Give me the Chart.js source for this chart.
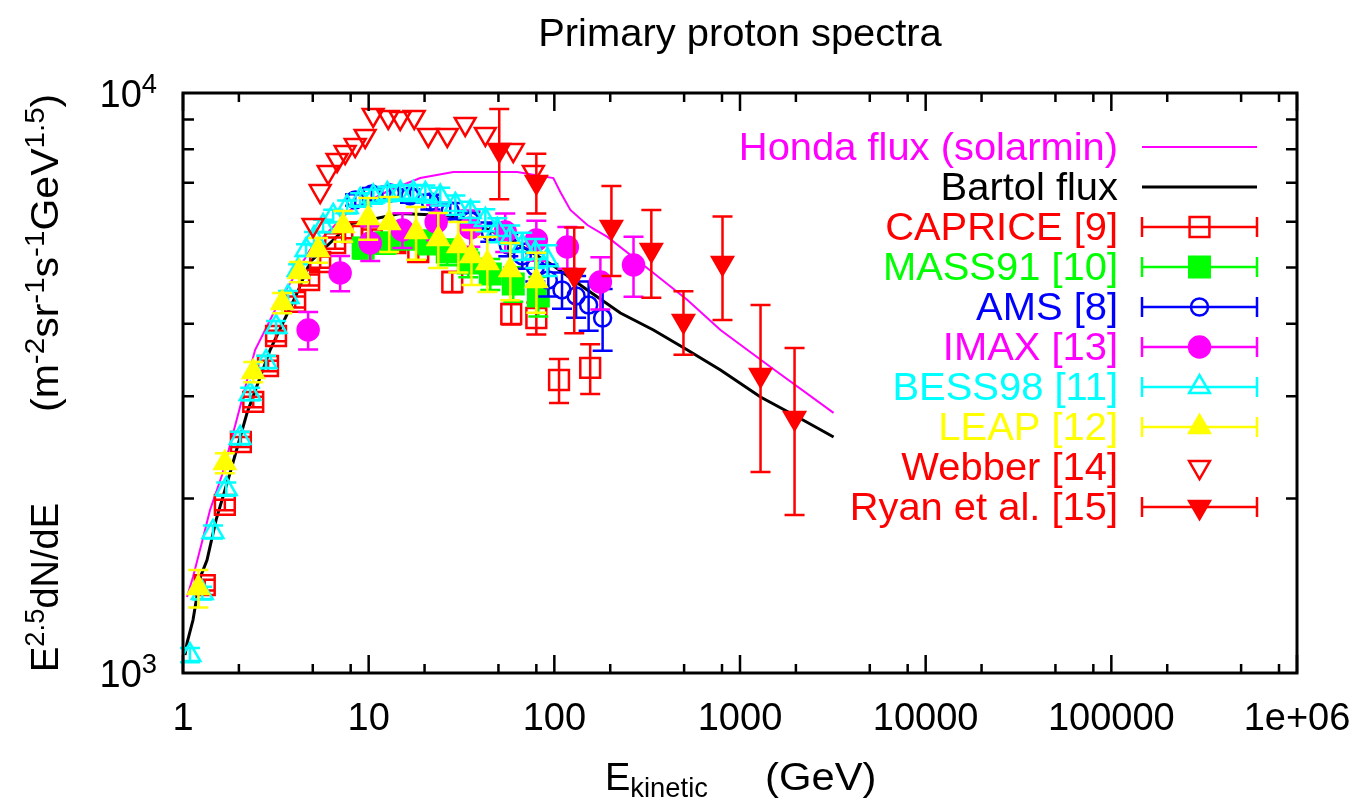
<!doctype html>
<html lang="en">
<head>
<meta charset="utf-8">
<title>Primary proton spectra</title>
<script src="https://cdn.jsdelivr.net/npm/chart.js"></script>
<style>
  html, body { margin: 0; padding: 0; background: #fff; }
  #wrap { width: 1369px; height: 798px; }
</style>
</head>
<body>
<div id="wrap"><canvas id="protonChart" width="1369" height="798"></canvas></div>
<script>
// ---- data (E kinetic in GeV, E^2.5 dN/dE) ----
const HONDA_E    = [1.051, 1.132, 1.266, 1.398, 1.623, 2.029, 2.444, 3.334, 4.836, 7.95, 13.06, 18.95, 28.55, 63.2, 98.8, 107.7, 122, 150.6, 193, 342, 521, 785, 1460, 3192];
const HONDA_FLUX = [1352, 1464, 1682, 1910, 2194, 2874, 3605, 4397, 5362, 6285, 6804, 7135, 7307, 7307, 7135, 6750, 6285, 5921, 5647, 4894, 4397, 3903, 3370, 2808];

const BARTOL_E    = [1.025, 1.051, 1.132, 1.235, 1.347, 1.506, 1.792, 2.213, 2.944, 4.118, 4.836, 7.95, 14.78, 26.5, 40.9, 60.1, 97.5, 150.6, 226.9, 341.8, 521, 785, 1290, 2042, 3192];
const BARTOL_FLUX = [1074, 1126, 1234, 1458, 1566, 1835, 2212, 2808, 3605, 4521, 5112, 5950, 6200, 6150, 5875, 5557, 5052, 4575, 4175, 3903, 3605, 3330, 2991, 2763, 2552];

const CAPRICE_E    = [1.31, 1.68, 2.05, 2.39, 2.87, 3.17, 4.02, 4.78, 5.48, 6.60, 8.15, 10.4, 13.9, 18.5, 28.2, 58.6, 80.0, 106, 156];
const CAPRICE_FLUX = [1418, 1949, 2502, 2933, 3383, 3811, 4363, 4760, 5112, 5512, 5758, 5667, 5512, 5319, 4722, 4159, 4093, 3200, 3357];
const CAPRICE_ERR  = [30, 40, 50, 60, 70, 80, 95, 105, 115, 125, 140, 150, 165, 180, 190, 170, 260, 280, 330];

const MASS91_E    = [9.34, 12.3, 16.1, 20.9, 26.5, 34.4, 45.2, 60.1, 82.0];
const MASS91_FLUX = [5405, 5512, 5623, 5534, 5319, 5092, 4874, 4685, 4467];
const MASS91_ERR  = [220, 230, 250, 260, 270, 280, 300, 320, 350];

const AMS_E    = [8.46, 10.4, 13.1, 16.7, 21.5, 27.5, 35.3, 45.2, 56.5, 67.2, 79.0, 92.8, 110, 131, 153, 182];
const AMS_FLUX = [6540, 6698, 6725, 6645, 6488, 6260, 6017, 5758, 5469, 5236, 5012, 4760, 4575, 4467, 4310, 4093];
const AMS_ERR  = [150, 160, 170, 180, 190, 200, 210, 220, 240, 260, 280, 300, 330, 370, 420, 500];

const IMAX_E    = [4.72, 7.02, 10.2, 15.2, 23.1, 35.3, 54.4, 80.0, 117.5, 177, 267];
const IMAX_FLUX = [3903, 4894, 5512, 5805, 5992, 5850, 5758, 5580, 5427, 4722, 5052];
const IMAX_ERR  = [290, 340, 380, 400, 420, 420, 440, 440, 450, 490, 600];

const BESS98_E    = [1.09, 1.27, 1.45, 1.71, 2.03, 2.30, 2.80, 3.17, 3.68, 4.17, 4.60, 5.08, 5.68, 6.44, 7.66, 9.0, 10.6, 12.6, 14.8, 17.4, 20.2, 24.3, 29.3, 35.3, 42.5, 49.3, 57.9, 67.2, 79.0, 91.7];
const BESS98_FLUX = [1074, 1374, 1751, 2076, 2542, 3027, 3438, 3951, 4450, 4952, 5362, 5623, 5898, 6138, 6360, 6540, 6630, 6700, 6725, 6725, 6700, 6630, 6412, 6236, 6040, 5805, 5623, 5447, 5298, 5150];
const BESS98_ERR  = [30, 35, 45, 55, 65, 75, 85, 95, 105, 115, 125, 135, 145, 155, 165, 175, 185, 195, 205, 215, 225, 235, 245, 255, 265, 275, 285, 295, 305, 315];

const LEAP_E    = [1.21, 1.68, 2.39, 3.42, 4.22, 5.34, 7.29, 9.94, 12.9, 18.0, 23.7, 30.4, 35.8, 43.6, 57.9, 80.0];
const LEAP_FLUX = [1401, 2301, 3304, 4345, 4914, 5362, 5898, 6088, 5968, 5758, 5602, 5447, 5236, 5092, 4952, 4741];
const LEAP_ERR  = [104, 92, 132, 174, 197, 263, 360, 505, 650, 600, 610, 545, 570, 555, 560, 560];

const WEBBER_E    = [5.02, 5.48, 6.05, 6.76, 7.47, 8.46, 9.57, 10.57, 12.74, 14.78, 17.59, 20.94, 26.5, 33.1, 42.5, 60.1, 77.1];
const WEBBER_FLUX = [5921, 6776, 7307, 7665, 7910, 8133, 8431, 9165, 9092, 9056, 9092, 8465, 8465, 8843, 8498, 7973, 7307];

const RYAN_E    = [50.5, 80.0, 128, 203, 333, 496, 805, 1290, 1967];
const RYAN_FLUX = [7973, 7025, 4856, 5875, 5362, 4045, 5092, 3265, 2753];
const RYAN_ERR  = [1415, 830, 1005, 1040, 925, 508, 1030, 1045, 880];

const X_TICKS = [1, 10, 100, 1000, 10000, 100000, 1000000];
const X_TICK_LABELS = ['1', '10', '100', '1000', '10000', '100000', '1e+06'];
const Y_TICKS = [1000, 10000];
const Y_TICK_EXP = ['3', '4'];

const FONT = "'Liberation Sans', Arial, Helvetica, sans-serif";

function pts(E, F) {
  return E.map((e, i) => ({ x: e, y: F[i] }));
}

function setFont(ctx, px) {
  ctx.font = px + 'px ' + FONT;
}

// text with superscript / subscript parts: [text, kind]
function richWidth(ctx, parts, size) {
  let w = 0;
  parts.forEach(([t, k]) => {
    setFont(ctx, k ? size * 0.72 : size);
    w += ctx.measureText(t).width;
  });
  return w;
}

function drawRich(ctx, parts, x, y, size, align, sx) {
  sx = sx || 1;
  const w = richWidth(ctx, parts, size) * sx;
  const left = align === 'right' ? x - w : align === 'center' ? x - w / 2 : x;
  ctx.save();
  ctx.translate(left, y);
  ctx.scale(sx, 1);
  ctx.textAlign = 'left';
  ctx.textBaseline = 'alphabetic';
  let px = 0;
  parts.forEach(([t, k]) => {
    setFont(ctx, k ? size * 0.72 : size);
    const dy = k === 'sup' ? -size * 0.38 : k === 'sub' ? size * 0.19 : 0;
    ctx.fillText(t, px, dy);
    px += ctx.measureText(t).width;
  });
  ctx.restore();
}

function drawMarker(ctx, ds, x, y) {
  const r = ds.pointRadius;
  ctx.save();
  ctx.lineWidth = ds.pointBorderWidth;
  ctx.strokeStyle = ds.pointBorderColor;
  ctx.fillStyle = ds.pointBackgroundColor;
  ctx.beginPath();
  if (ds.pointStyle === 'rect') {
    const s = r * Math.SQRT1_2;
    ctx.rect(x - s, y - s, 2 * s, 2 * s);
  } else if (ds.pointStyle === 'circle') {
    ctx.arc(x, y, r, 0, Math.PI * 2);
  } else {
    const d = ds.pointRotation ? -1 : 1;
    ctx.moveTo(x, y - d * r);
    ctx.lineTo(x + 0.866 * r, y + d * 0.5 * r);
    ctx.lineTo(x - 0.866 * r, y + d * 0.5 * r);
    ctx.closePath();
  }
  ctx.fill();
  ctx.stroke();
  ctx.restore();
}

// error bars, axes frame with inward ticks, labels and legend (gnuplot look)
const gnuplotLook = {
  id: 'gnuplotLook',
  beforeDatasetDraw(chart, args) {
    const ds = chart.data.datasets[args.index];
    if (!ds.errors) return;
    const ctx = chart.ctx, xs = chart.scales.x, ys = chart.scales.y;
    ctx.save();
    ctx.strokeStyle = ds.pointBorderColor;
    ctx.lineWidth = 2.5;
    ds.data.forEach((p, i) => {
      const e = ds.errors[i];
      const px = xs.getPixelForValue(p.x);
      const top = ys.getPixelForValue(p.y + e);
      const bot = ys.getPixelForValue(p.y - e);
      ctx.beginPath();
      ctx.moveTo(px, top); ctx.lineTo(px, bot);
      ctx.moveTo(px - 10, top); ctx.lineTo(px + 10, top);
      ctx.moveTo(px - 10, bot); ctx.lineTo(px + 10, bot);
      ctx.stroke();
    });
    ctx.restore();
  },
  afterDraw(chart) {
    const ctx = chart.ctx, a = chart.chartArea;
    const xs = chart.scales.x, ys = chart.scales.y;
    ctx.save();
    ctx.strokeStyle = '#000';
    ctx.fillStyle = '#000';

    // ticks
    ctx.lineWidth = 2.5;
    ctx.beginPath();
    for (let d = 1; d < 1e6; d *= 10) {
      [2, 5, 8].forEach(m => {
        const px = xs.getPixelForValue(d * m);
        ctx.moveTo(px, a.bottom); ctx.lineTo(px, a.bottom - 9);
        ctx.moveTo(px, a.top); ctx.lineTo(px, a.top + 9);
      });
    }
    X_TICKS.forEach(v => {
      const px = xs.getPixelForValue(v);
      ctx.moveTo(px, a.bottom); ctx.lineTo(px, a.bottom - 18);
      ctx.moveTo(px, a.top); ctx.lineTo(px, a.top + 18);
    });
    for (let m = 2; m <= 9; m++) {
      const py = ys.getPixelForValue(m * 1000);
      ctx.moveTo(a.left, py); ctx.lineTo(a.left + 11, py);
      ctx.moveTo(a.right, py); ctx.lineTo(a.right - 11, py);
    }
    ctx.stroke();

    // frame
    ctx.lineWidth = 3;
    ctx.strokeRect(a.left, a.top, a.right - a.left, a.bottom - a.top);

    // tick labels
    X_TICKS.forEach((v, i) => {
      drawRich(ctx, [[X_TICK_LABELS[i], '']], xs.getPixelForValue(v), 730, 38, 'center');
    });
    Y_TICKS.forEach((v, i) => {
      drawRich(ctx, [['10', ''], [Y_TICK_EXP[i], 'sup']], 157, ys.getPixelForValue(v) + 14, 38, 'right');
    });

    // titles
    drawRich(ctx, [['Primary proton spectra', '']], 740, 46, 38, 'center', 1.05);
    drawRich(ctx, [['E', ''], ['kinetic', 'sub']], 605, 790, 38, 'left');
    drawRich(ctx, [['(GeV)', '']], 765, 790, 38, 'left', 1.1);

    ctx.save();
    ctx.translate(58, 672);
    ctx.rotate(-Math.PI / 2);
    drawRich(ctx, [['E', ''], ['2.5', 'sup'], ['dN/dE', '']], 0, 0, 38, 'left');
    drawRich(ctx, [['(m', ''], ['-2', 'sup'], ['sr', ''], ['-1', 'sup'], ['s', ''], ['-1', 'sup'],
                   ['GeV', ''], ['1.5', 'sup'], [')', '']], 260, 0, 38, 'left', 1.08);
    ctx.restore();

    // legend
    const x0 = 1142, x1 = 1257, xm = (x0 + x1) / 2;
    chart.data.datasets.forEach((ds, i) => {
      const y = 147 + 40 * i;
      ctx.fillStyle = ds.textColor;
      drawRich(ctx, [[ds.label, '']], 1118, y + 13, 38, 'right', 1.05);
      if (ds.showLine) {
        ctx.strokeStyle = ds.borderColor;
        ctx.lineWidth = ds.borderWidth;
        ctx.beginPath(); ctx.moveTo(x0, y); ctx.lineTo(x1, y); ctx.stroke();
        return;
      }
      if (ds.errors) {
        ctx.strokeStyle = ds.pointBorderColor;
        ctx.lineWidth = 2.5;
        ctx.beginPath();
        ctx.moveTo(x0, y); ctx.lineTo(x1, y);
        ctx.moveTo(x0, y - 10); ctx.lineTo(x0, y + 10);
        ctx.moveTo(x1, y - 10); ctx.lineTo(x1, y + 10);
        ctx.stroke();
      }
      drawMarker(ctx, ds, xm, y);
    });
    ctx.restore();
  }
};

function series(label, color, E, F, err, style, r, filled, rot, order) {
  return {
    label: label,
    data: pts(E, F),
    errors: err,
    textColor: color,
    showLine: false,
    pointStyle: style,
    pointRadius: r,
    pointRotation: rot,
    pointBorderWidth: 2.5,
    pointBorderColor: color,
    pointBackgroundColor: filled ? color : 'rgba(0,0,0,0)',
    order: order
  };
}

const datasets = [
  { label: 'Honda flux (solarmin)', data: pts(HONDA_E, HONDA_FLUX), textColor: '#ff00ff', showLine: true,
    borderColor: '#ff00ff', borderWidth: 2, pointRadius: 0, tension: 0, order: 10 },
  { label: 'Bartol flux', data: pts(BARTOL_E, BARTOL_FLUX), textColor: '#000000', showLine: true,
    borderColor: '#000000', borderWidth: 3, pointRadius: 0, tension: 0, order: 9 },
  series('CAPRICE [9]', '#ff0000', CAPRICE_E, CAPRICE_FLUX, CAPRICE_ERR, 'rect', 14, false, 0, 8),
  series('MASS91 [10]', '#00ff00', MASS91_E, MASS91_FLUX, MASS91_ERR, 'rect', 14.5, true, 0, 7),
  series('AMS [8]', '#0000ff', AMS_E, AMS_FLUX, AMS_ERR, 'circle', 8.5, false, 0, 6),
  series('IMAX [13]', '#ff00ff', IMAX_E, IMAX_FLUX, IMAX_ERR, 'circle', 10.5, true, 0, 5),
  series('BESS98 [11]', '#00ffff', BESS98_E, BESS98_FLUX, BESS98_ERR, 'triangle', 12, false, 0, 4),
  series('LEAP [12]', '#ffff00', LEAP_E, LEAP_FLUX, LEAP_ERR, 'triangle', 12, true, 0, 3),
  series('Webber [14]', '#ff0000', WEBBER_E, WEBBER_FLUX, null, 'triangle', 12, false, 180, 2),
  series('Ryan et al. [15]', '#ff0000', RYAN_E, RYAN_FLUX, RYAN_ERR, 'triangle', 12, true, 180, 1)
];

new Chart(document.getElementById('protonChart'), {
  type: 'scatter',
  data: { datasets: datasets },
  options: {
    responsive: false,
    animation: false,
    events: [],
    layout: { padding: { left: 183, top: 93, right: 72, bottom: 125 } },
    scales: {
      x: { type: 'logarithmic', min: 1, max: 1000000, display: false },
      y: { type: 'logarithmic', min: 1000, max: 10000, display: false }
    },
    plugins: {
      legend: { display: false },
      title: { display: false },
      tooltip: { enabled: false }
    }
  },
  plugins: [gnuplotLook]
});
</script>
</body>
</html>
